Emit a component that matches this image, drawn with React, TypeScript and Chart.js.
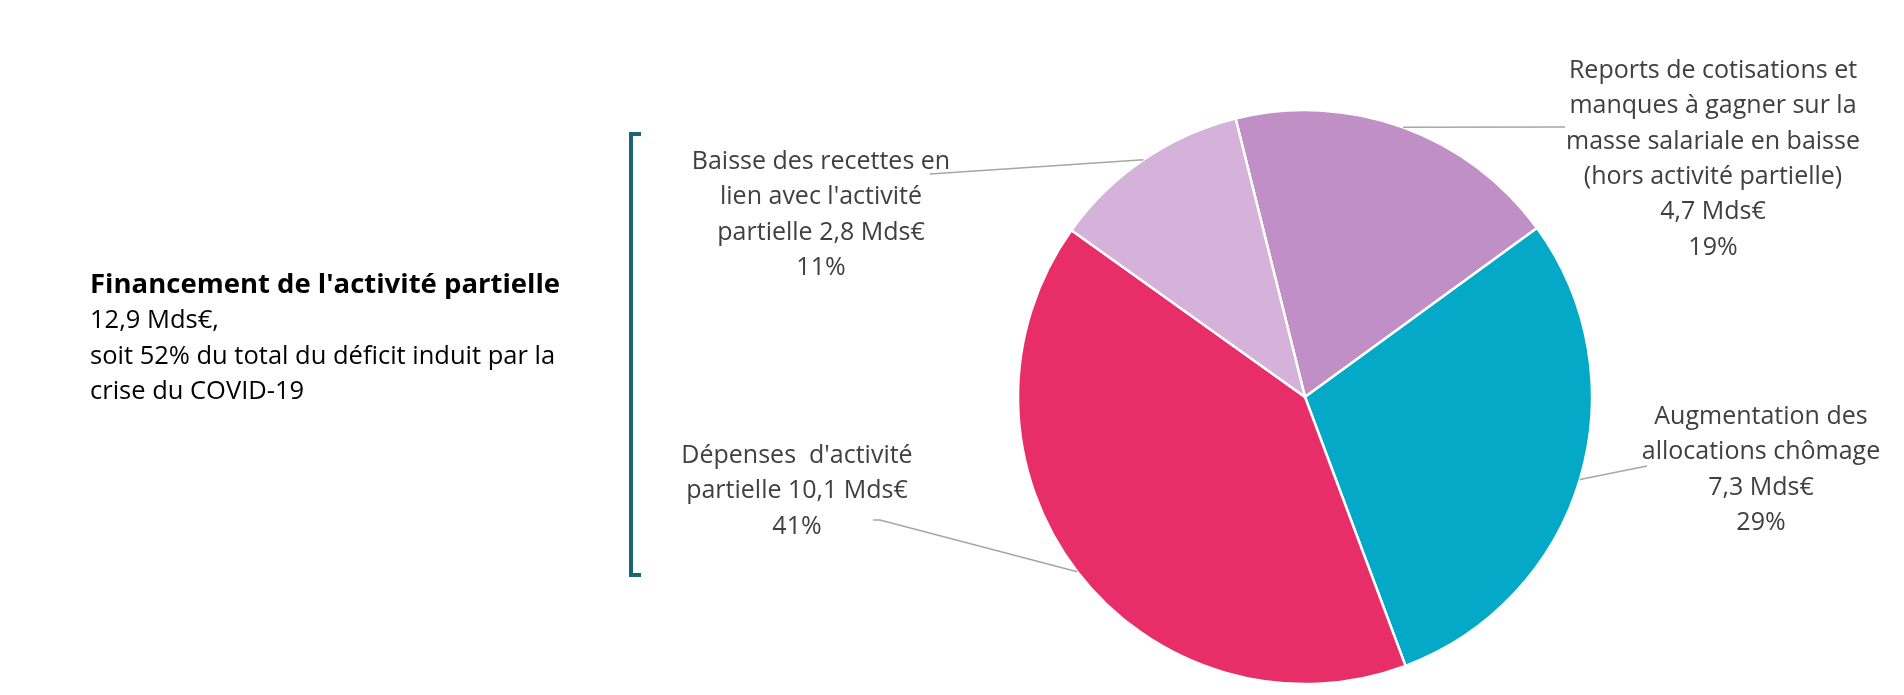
import React, { useEffect, useRef } from "react";
import { Chart, registerables } from "chart.js";

Chart.register(...registerables);

const categories = [
  "Reports de cotisations et manques à gagner sur la masse salariale en baisse (hors activité partielle)",
  "Augmentation des allocations chômage",
  "Dépenses d'activité partielle",
  "Baisse des recettes en lien avec l'activité partielle",
];
const valuesMds = [4.7, 7.3, 10.1, 2.8];
const percentLabels = ["19%", "29%", "41%", "11%"];
const colors = ["#BF8FC5", "#03A9C6", "#E82E68", "#D5B2D9"];

const labelLines: string[][] = [
  [
    "Reports de cotisations et",
    "manques à gagner sur la",
    "masse salariale en baisse",
    "(hors activité partielle)",
    "4,7 Mds€",
    "19%",
  ],
  ["Augmentation des", "allocations chômage", "7,3 Mds€", "29%"],
  ["Dépenses  d'activité", "partielle 10,1 Mds€", "41%"],
  ["Baisse des recettes en", "lien avec l'activité", "partielle 2,8 Mds€", "11%"],
];

const sideTitle = "Financement de l'activité partielle";
const sideLines = ["12,9 Mds€,", "soit 52% du total du déficit induit par la", "crise du COVID-19"];

// layout (positions of label blocks and leader-line label ends)
const labelLayout = [
  { cx: 1713, y0: 78, end: [[1565, 127]] },
  { cx: 1761, y0: 424, end: [[1647, 466]] },
  { cx: 797, y0: 463, end: [[873, 520], [880, 520]] },
  { cx: 821, y0: 169, end: [[930, 174]] },
];
const LINE_H = 35.3;
const FONT = "'Open Sans', Lato, sans-serif";

const overlayPlugin = {
  id: "overlay",
  afterDraw(chart: any) {
    const ctx = chart.ctx as CanvasRenderingContext2D;
    const meta = chart.getDatasetMeta(0);
    ctx.save();
    // leader lines
    ctx.strokeStyle = "#A6A6A6";
    ctx.lineWidth = 1.5;
    meta.data.forEach((arc: any, i: number) => {
      const p = arc.getProps(["x", "y", "startAngle", "endAngle", "outerRadius"], true);
      const mid = (p.startAngle + p.endAngle) / 2;
      const px = p.x + Math.cos(mid) * p.outerRadius;
      const py = p.y + Math.sin(mid) * p.outerRadius;
      const ends = labelLayout[i].end;
      ctx.beginPath();
      ctx.moveTo(px, py);
      for (let k = ends.length - 1; k >= 0; k--) ctx.lineTo(ends[k][0], ends[k][1]);
      ctx.stroke();
    });
    // labels
    ctx.fillStyle = "#404040";
    ctx.font = `25px ${FONT}`;
    ctx.textAlign = "center";
    ctx.textBaseline = "alphabetic";
    labelLines.forEach((lines, i) => {
      const L = labelLayout[i];
      lines.forEach((t, j) => ctx.fillText(t, L.cx, L.y0 + j * LINE_H));
    });
    // side text
    ctx.textAlign = "left";
    ctx.fillStyle = "#000000";
    ctx.font = `bold 27.5px ${FONT}`;
    ctx.fillText(sideTitle, 90, 293);
    ctx.font = `25.5px ${FONT}`;
    sideLines.forEach((t, j) => ctx.fillText(t, 90, 328 + j * 35.5));
    // bracket
    ctx.strokeStyle = "#1C6575";
    ctx.lineWidth = 4;
    ctx.lineCap = "butt";
    ctx.lineJoin = "miter";
    ctx.beginPath();
    ctx.moveTo(641, 134);
    ctx.lineTo(631, 134);
    ctx.lineTo(631, 575);
    ctx.lineTo(641, 575);
    ctx.stroke();
    ctx.restore();
  },
};

export default function App() {
  const ref = useRef<HTMLCanvasElement>(null);
  useEffect(() => {
    if (!ref.current) return;
    const chart = new Chart(ref.current, {
      type: "pie",
      data: {
        labels: categories,
        datasets: [
          {
            data: valuesMds,
            backgroundColor: colors,
            borderColor: "#FFFFFF",
            borderWidth: 2.5,
          },
        ],
      },
      options: {
        animation: false,
        responsive: false,
        devicePixelRatio: 1,
        rotation: -14,
        radius: 287,
        layout: { padding: { left: 1019, right: 313, top: 110, bottom: 11 } },
        plugins: {
          legend: { display: false },
          tooltip: { enabled: false },
        },
      },
      plugins: [overlayPlugin],
    });
    return () => chart.destroy();
  }, []);
  return (
    <div style={{ position: "fixed", left: 0, top: 0, width: 1904, height: 695, background: "#fff" }}>
      <canvas ref={ref} width={1904} height={695} />
    </div>
  );
}
